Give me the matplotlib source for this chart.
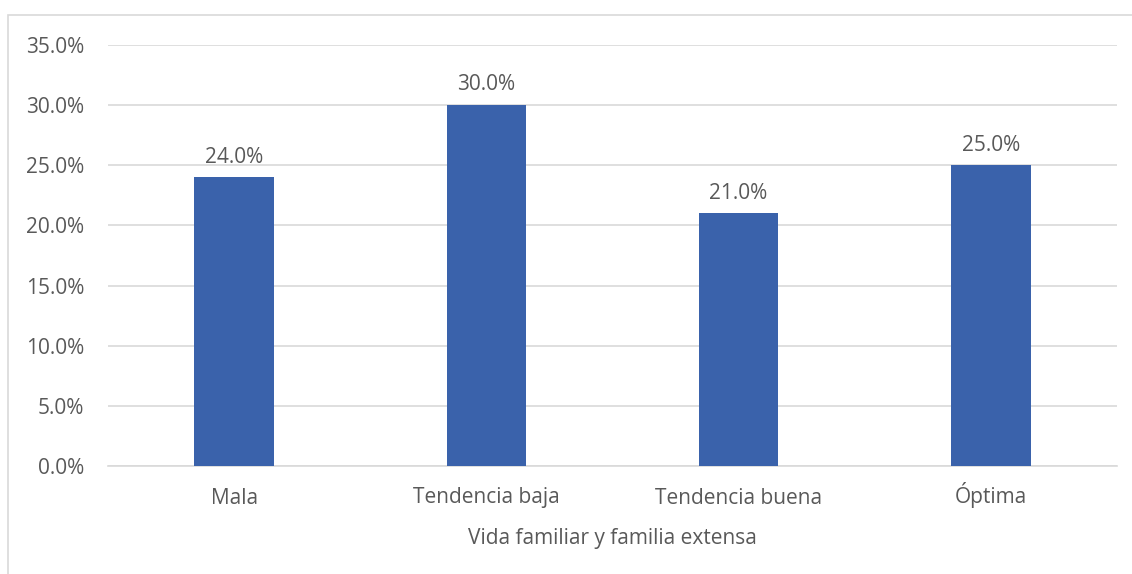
import matplotlib.pyplot as plt
from matplotlib.patches import Rectangle
from matplotlib.ticker import FuncFormatter

CATEGORIES = ["Mala", "Tendencia baja", "Tendencia buena", "Óptima"]
VALUES = [24.0, 30.0, 21.0, 25.0]
Y_TICKS = [0, 5, 10, 15, 20, 25, 30, 35]
X_LABEL = "Vida familiar y familia extensa"

BAR_COLOR = "#3A62AB"
TEXT_COLOR = "#595959"
GRID_COLOR = "#D9D9D9"
FS = 15

plt.rcParams["font.family"] = ["Open Sans", "DejaVu Sans"]

fig = plt.figure(figsize=(11.32, 5.74), dpi=100)
# outer chart border (right/bottom run off the picture)
fig.patches.append(Rectangle(
    (8 / 1132, -0.05), 1.2, 1 - 15 / 574 + 0.05,
    transform=fig.transFigure, fill=False, edgecolor=GRID_COLOR, linewidth=1.2,
))

ax = fig.add_axes([108 / 1132, 1 - 466 / 574, 1009 / 1132, 421 / 574])
x = range(len(CATEGORIES))
bars = ax.bar(x, VALUES, width=0.315, color=BAR_COLOR, zorder=3)

for rect, v in zip(bars, VALUES):
    ax.annotate(
        f"{v:.1f}%",
        (rect.get_x() + rect.get_width() / 2, v),
        xytext=(0, 7), textcoords="offset points",
        ha="center", va="bottom", fontsize=FS, color=TEXT_COLOR,
    )

ax.set_xlim(-0.5, len(CATEGORIES) - 0.5)
ax.set_ylim(0, 35)
ax.set_yticks(Y_TICKS)
ax.yaxis.set_major_formatter(FuncFormatter(lambda v, _: f"{v:.1f}%"))
ax.set_xticks(list(x))
ax.set_xticklabels(CATEGORIES, va="baseline")
ax.tick_params(axis="both", length=0, labelsize=FS, labelcolor=TEXT_COLOR)
ax.tick_params(axis="y", pad=17)
ax.tick_params(axis="x", pad=27)
ax.set_xlabel(X_LABEL, fontsize=FS, color=TEXT_COLOR, labelpad=14)

ax.grid(axis="y", color=GRID_COLOR, linewidth=1.2, zorder=0)
for side in ("top", "right", "left"):
    ax.spines[side].set_visible(False)
ax.spines["bottom"].set_color(GRID_COLOR)
ax.spines["bottom"].set_linewidth(1.2)

fig.savefig("out.png", dpi=100)
